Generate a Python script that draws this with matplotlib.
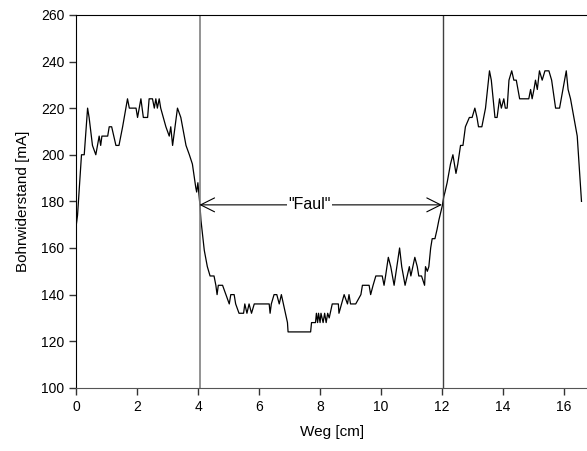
import matplotlib.pyplot as plt
import numpy as np

plt.rcParams['font.family'] = ['Liberation Sans', 'DejaVu Sans']

weg = [0.00, 0.04, 0.17, 0.26, 0.37, 0.42, 0.53, 0.64, 0.75, 0.80, 0.84, 1.03,
       1.08, 1.16, 1.30, 1.40, 1.52, 1.68, 1.74, 1.96, 2.01, 2.12, 2.20, 2.34,
       2.39, 2.50, 2.56, 2.61, 2.66, 2.72, 2.77, 2.94, 3.05, 3.10, 3.16, 3.32,
       3.43, 3.60, 3.71, 3.81, 3.92, 3.95, 3.99, 4.03, 4.06, 4.09, 4.20, 4.30,
       4.39, 4.52, 4.58, 4.62, 4.66, 4.80, 4.91, 5.02, 5.07, 5.18, 5.23, 5.34,
       5.49, 5.53, 5.60, 5.67, 5.75, 5.84, 6.33, 6.36, 6.40, 6.49, 6.58, 6.66,
       6.73, 6.93, 6.95, 7.69, 7.72, 7.85, 7.88, 7.92, 7.95, 8.00, 8.03, 8.10,
       8.15, 8.20, 8.25, 8.30, 8.40, 8.46, 8.60, 8.62, 8.79, 8.90, 8.95, 9.00,
       9.17, 9.34, 9.39, 9.61, 9.66, 9.74, 9.83, 10.04, 10.10, 10.15, 10.24,
       10.32, 10.43, 10.61, 10.68, 10.79, 10.93, 10.98, 11.11, 11.19, 11.24,
       11.33, 11.43, 11.46, 11.52, 11.57, 11.63, 11.68, 11.77, 11.84, 11.90,
       12.01, 12.06, 12.10, 12.17, 12.28, 12.36, 12.46, 12.52, 12.61, 12.69,
       12.77, 12.90, 12.99, 13.08, 13.15, 13.20, 13.31, 13.43, 13.56, 13.62,
       13.74, 13.81, 13.89, 13.95, 14.03, 14.08, 14.14, 14.20, 14.29, 14.36,
       14.44, 14.55, 14.85, 14.91, 14.96, 15.02, 15.07, 15.13, 15.20, 15.29,
       15.38, 15.51, 15.60, 15.73, 15.86, 15.97, 16.08, 16.14, 16.22, 16.33,
       16.44, 16.58]
widerstand = [170, 174, 200, 200, 220, 216, 204, 200, 208, 204, 208, 208,
              212, 212, 204, 204, 212, 224, 220, 220, 216, 224, 216, 216,
              224, 224, 220, 224, 220, 224, 220, 212, 208, 212, 204, 220,
              216, 204, 200, 196, 186, 184, 188, 182, 178, 172, 159, 152,
              148, 148, 144, 140, 144, 144, 140, 136, 140, 140, 136, 132,
              132, 136, 132, 136, 132, 136, 136, 132, 136, 140, 140, 136,
              140, 128, 124, 124, 128, 128, 132, 128, 132, 128, 132, 128,
              132, 128, 132, 130, 136, 136, 136, 132, 140, 136, 140, 136,
              136, 140, 144, 144, 140, 144, 148, 148, 144, 148, 156,
              152, 144, 160, 152, 144, 152, 148, 156, 152, 148,
              148, 144, 152, 150, 152, 160, 164, 164, 168, 172,
              178, 182, 184, 188, 196, 200, 192, 196, 204, 204,
              212, 216, 216, 220, 216, 212, 212, 220, 236, 232,
              216, 216, 224, 220, 224, 220, 220, 232, 236, 232,
              232, 224, 224, 228, 224, 228, 232, 228, 236, 232,
              236, 236, 232, 220, 220, 228, 236, 228, 224, 216,
              208, 180]

x_ticks = [0, 2, 4, 6, 8, 10, 12, 14, 16]
y_ticks = [100, 120, 140, 160, 180, 200, 220, 240, 260]
grenzen = [4.06, 12.02]
pfeil_y = 178.5

fig = plt.figure(figsize=(5.87, 4.51), dpi=100)
ax = fig.add_axes([0.13, 0.14, 0.871, 0.827])

ax.plot(weg, widerstand, color='black', linewidth=0.9)

# Grenzen der faulen Zone
ax.axvline(grenzen[0], color='#808080', linewidth=1.2)
ax.axvline(grenzen[1], color='#404040', linewidth=1.0)

ax.annotate('', xy=(4.04, pfeil_y), xytext=(12.0, pfeil_y),
            arrowprops=dict(arrowstyle='<->', color='black', lw=0.8,
                            mutation_scale=25, shrinkA=0, shrinkB=0))
ax.text(7.65, pfeil_y, '"Faul"', ha='center', va='center', fontsize=11.5,
        bbox=dict(facecolor='white', edgecolor='none', pad=1))

ax.set_xlim(0, 16.78)
ax.set_ylim(100, 260)
ax.set_xticks(x_ticks)
ax.set_yticks(y_ticks)
ax.tick_params(direction='out', length=5, width=1, labelsize=10,
               colors='#333333', labelcolor='black')
ax.spines['right'].set_visible(False)
ax.spines['bottom'].set_color('#555555')
ax.spines['left'].set_color('black')
ax.spines['top'].set_color('black')
ax.set_xlabel('Weg [cm]', fontsize=11, labelpad=8)
ax.set_ylabel('Bohrwiderstand [mA]', fontsize=11, labelpad=8)

fig.savefig('out.png', dpi=100)
